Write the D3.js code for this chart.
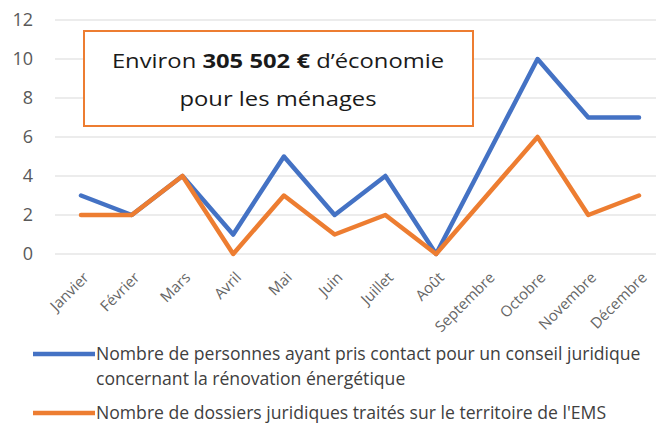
<!DOCTYPE html>
<html>
<head>
<meta charset="utf-8">
<script src="https://cdn.jsdelivr.net/npm/d3@7"></script>
<style>
body { margin: 0; background: #fff; }
svg { display: block; font-family: "Open Sans", "Liberation Sans", sans-serif; }
</style>
</head>
<body>
<svg width="659" height="423"></svg>
<script>
var months = ["Janvier", "Février", "Mars", "Avril", "Mai", "Juin", "Juillet", "Août", "Septembre", "Octobre", "Novembre", "Décembre"];
var contacts = [3, 2, 4, 1, 5, 2, 4, 0, 5, 10, 7, 7];
var dossiers = [2, 2, 4, 0, 3, 1, 2, 0, 3, 6, 2, 3];
var yTicks = [0, 2, 4, 6, 8, 10, 12];
var legendLabels = [
  ["Nombre de personnes ayant pris contact pour un conseil juridique", "concernant la rénovation énergétique"],
  ["Nombre de dossiers juridiques traités sur le territoire de l'EMS"]
];

var svg = d3.select("svg");
var blue = "#4472C4", orange = "#ED7D31";

var x = d3.scalePoint().domain(months).range([81, 639]);
var y = d3.scaleLinear().domain([0, 12]).range([254, 20]);

// gridlines
svg.append("g")
  .selectAll("line")
  .data(yTicks)
  .join("line")
  .attr("x1", 55).attr("x2", 656)
  .attr("y1", function(d) { return y(d); })
  .attr("y2", function(d) { return y(d); })
  .attr("stroke", "#d9d9d9")
  .attr("stroke-width", 1);

// y axis labels
var yAxis = d3.axisLeft(y).tickValues(yTicks).tickSize(0).tickPadding(0);
var gy = svg.append("g").attr("transform", "translate(33,0)").call(yAxis);
gy.select(".domain").remove();
gy.selectAll("text")
  .attr("fill", "#595959")
  .style("font-size", "18px")
  .style("font-family", "'Open Sans', sans-serif");

// x axis labels
var xAxis = d3.axisBottom(x).tickSize(0).tickPadding(0);
var gx = svg.append("g").attr("transform", "translate(0,271)").call(xAxis);
gx.select(".domain").remove();
gx.selectAll("text")
  .attr("fill", "#666666")
  .style("font-size", "15px")
  .style("font-family", "'Open Sans', sans-serif")
  .attr("text-anchor", "end")
  .attr("dy", "0.7em")
  .attr("transform", "translate(1,0) rotate(-45)");

// lines
var line = d3.line()
  .x(function(d, i) { return x(months[i]); })
  .y(function(d) { return y(d); });

[[contacts, blue], [dossiers, orange]].forEach(function(s) {
  svg.append("path")
    .datum(s[0])
    .attr("d", line)
    .attr("fill", "none")
    .attr("stroke", s[1])
    .attr("stroke-width", 4.5)
    .attr("stroke-linejoin", "round")
    .attr("stroke-linecap", "round");
});

// annotation box
svg.append("rect")
  .attr("x", 84).attr("y", 31)
  .attr("width", 389).attr("height", 95)
  .attr("fill", "#fff")
  .attr("stroke", orange)
  .attr("stroke-width", 2);

var box = svg.append("g").attr("transform", "translate(278,0) scale(1.22,1)");
var t1 = box.append("text")
  .attr("x", 0).attr("y", 68)
  .attr("text-anchor", "middle")
  .attr("fill", "#1a1a1a")
  .style("font-size", "19.5px");
t1.append("tspan").text("Environ ");
t1.append("tspan").attr("font-weight", "bold").text("305 502 €");
t1.append("tspan").text(" d’économie");

box.append("text")
  .attr("x", 0).attr("y", 106)
  .attr("text-anchor", "middle")
  .attr("fill", "#1a1a1a")
  .style("font-size", "19.5px")
  .text("pour les ménages");

// legend
var legendY = [354, 413];
[blue, orange].forEach(function(c, i) {
  svg.append("line")
    .attr("x1", 33).attr("x2", 95)
    .attr("y1", legendY[i]).attr("y2", legendY[i])
    .attr("stroke", c)
    .attr("stroke-width", 4.5);
  legendLabels[i].forEach(function(txt, j) {
    svg.append("text")
      .attr("x", 96).attr("y", legendY[i] + j * 25)
      .attr("dy", "0.35em")
      .attr("fill", "#404040")
      .style("font-size", "17.6px")
      .text(txt);
  });
});
</script>
</body>
</html>
